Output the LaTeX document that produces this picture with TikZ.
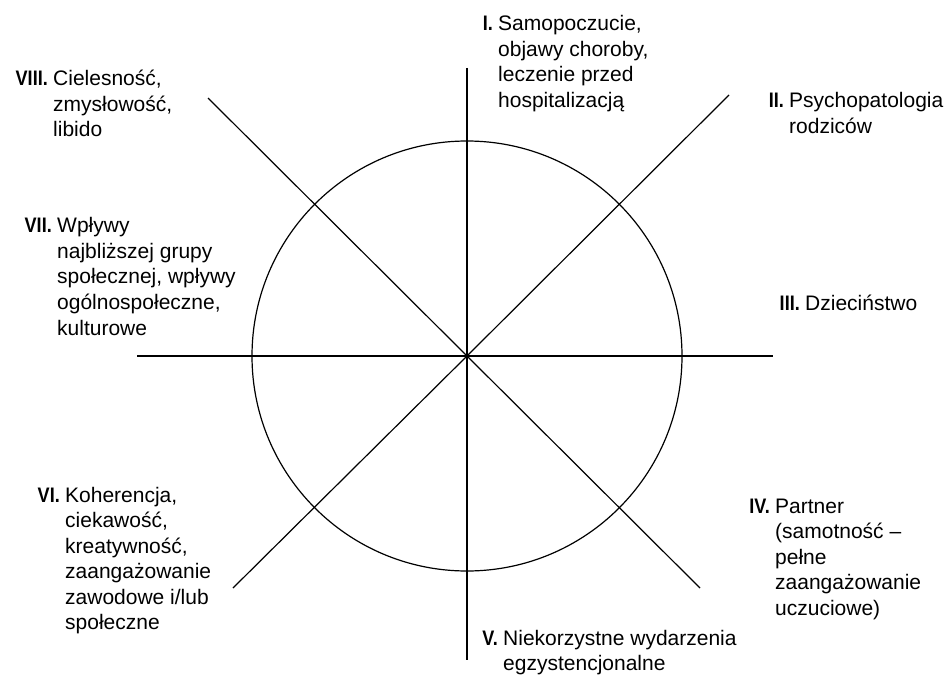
\documentclass[tikz,border=0pt]{standalone}
\usepackage{fontspec}
\setmainfont{Liberation Sans}
\newcommand{\romnum}[1]{\scalebox{0.86}[1]{\bfseries #1}}
\begin{document}
\begin{tikzpicture}[x=1pt,y=-1pt,
  axis/.style={line width=1.2pt, draw=black},
  lbl/.style={anchor=base west, inner sep=0pt, font=\fontsize{21}{25.5}\selectfont},
  num/.style={anchor=base east, inner sep=0pt, font=\fontsize{21}{25.5}\selectfont}]
\useasboundingbox (0,0) rectangle (949,676);
% centre and line ends
\coordinate (c) at (467,356);
\coordinate (eN) at (467,68);
\coordinate (eS) at (467,660);
\coordinate (eW) at (137,356);
\coordinate (eE) at (773,356);
\coordinate (eNW) at (208,98);
\coordinate (eNE) at (729,95);
\coordinate (eSW) at (233,588);
\coordinate (eSE) at (700,588);
\draw[axis] (c) circle[radius=215pt];
\draw[axis] (eN) -- (eS);
\draw[axis] (eW) -- (eE);
\draw[axis] (eNW) -- (c);
\draw[axis] (eNE) -- (c);
\draw[axis] (eSW) -- (c);
\draw[axis] (eSE) -- (c);
% labels
\node[lbl] (t1) at (498,31) {\begin{tabular}[t]{@{}l@{}}Samopoczucie,\\objawy choroby,\\leczenie przed\\hospitalizacją\end{tabular}};
\node[num] (n1) at ([xshift=-5pt]t1.base west) {\romnum{I.}};
\node[lbl] (t2) at (789,108) {\begin{tabular}[t]{@{}l@{}}Psychopatologia\\rodziców\end{tabular}};
\node[num] (n2) at ([xshift=-5pt]t2.base west) {\romnum{II.}};
\node[lbl] (t3) at (805,310) {Dzieciństwo};
\node[num] (n3) at ([xshift=-5pt]t3.base west) {\romnum{III.}};
\node[lbl] (t4) at (775,513) {\begin{tabular}[t]{@{}l@{}}Partner\\(samotność --\\pełne\\zaangażowanie\\uczuciowe)\end{tabular}};
\node[num] (n4) at ([xshift=-5pt]t4.base west) {\romnum{IV.}};
\node[lbl] (t5) at (503,645) {\begin{tabular}[t]{@{}l@{}}Niekorzystne wydarzenia\\egzystencjonalne\end{tabular}};
\node[num] (n5) at ([xshift=-5pt]t5.base west) {\romnum{V.}};
\node[lbl] (t6) at (65,502) {\begin{tabular}[t]{@{}l@{}}Koherencja,\\ciekawość,\\kreatywność,\\zaangażowanie\\zawodowe i/lub\\społeczne\end{tabular}};
\node[num] (n6) at ([xshift=-5pt]t6.base west) {\romnum{VI.}};
\node[lbl] (t7) at (57,233) {\begin{tabular}[t]{@{}l@{}}Wpływy\\najbliższej grupy\\społecznej, wpływy\\ogólnospołeczne,\\kulturowe\end{tabular}};
\node[num] (n7) at ([xshift=-5pt]t7.base west) {\romnum{VII.}};
\node[lbl] (t8) at (53,86) {\begin{tabular}[t]{@{}l@{}}Cielesność,\\zmysłowość,\\libido\end{tabular}};
\node[num] (n8) at ([xshift=-5pt]t8.base west) {\romnum{VIII.}};
\end{tikzpicture}
\end{document}
